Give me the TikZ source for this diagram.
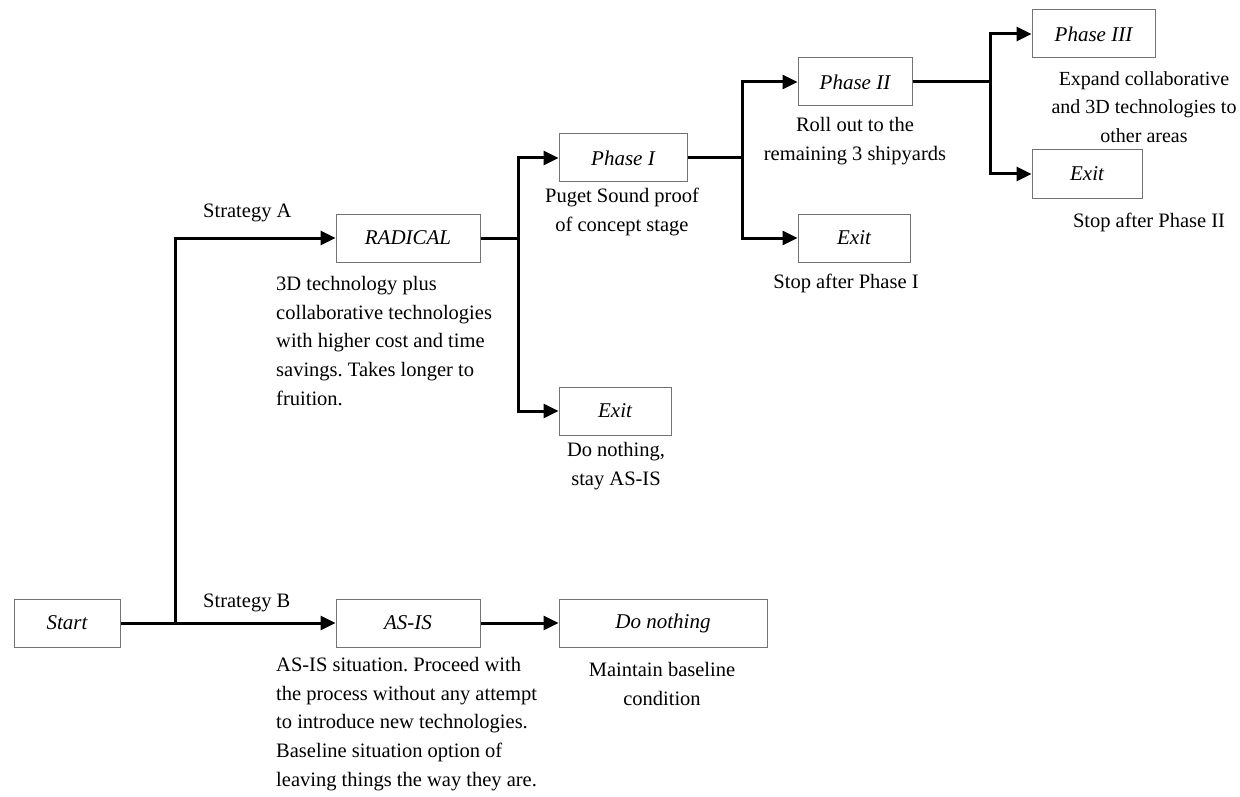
\documentclass[tikz,border=0pt]{standalone}
\usepackage{fontspec}
\setmainfont{Liberation Serif}
\usetikzlibrary{arrows.meta}
\begin{document}
\frenchspacing
\begin{tikzpicture}[x=1pt,y=-1pt,
  box/.style={draw=black!55, line width=1pt, inner sep=0pt, minimum height=48pt,
    font=\fontsize{21}{25}\selectfont\itshape},
  conn/.style={line width=3pt},
  arr/.style={conn, -{Triangle[length=15pt,width=14pt]}},
  desc/.style={inner sep=0pt, font=\fontsize{20.5}{28.7}\selectfont, align=center},
  descl/.style={inner sep=0pt, font=\fontsize{20.5}{28.7}\selectfont, align=left, anchor=west}]
\useasboundingbox (0,0) rectangle (1240,797);
% boxes
\node[box, minimum width=106pt] (start) at (67,623) {Start};
\node[box, minimum width=144pt] (asis) at (408,623) {AS-IS};
\node[box, minimum width=208pt] (donothing) at (663,623) {Do nothing};
\node[box, minimum width=144pt] (radical) at (408,238) {RADICAL};
\node[box, minimum width=128pt] (p1) at (623,158) {Phase I};
\node[box, minimum width=112pt] (exit1) at (615,411) {Exit};
\node[box, minimum width=114pt] (p2) at (855,82) {Phase II};
\node[box, minimum width=112pt] (exit2) at (854,238) {Exit};
\node[box, minimum width=123pt] (p3) at (1093.5,34) {Phase III};
\node[box, minimum width=110pt] (exit3) at (1087,174) {Exit};
% junctions
\coordinate (j1) at (175,623);
\coordinate (j2) at (518,238);
\coordinate (j3) at (742,158);
\coordinate (j4) at (990,82);
% connectors
\draw[conn] (start.east) -- (j1);
\draw[arr] (j1) -- (asis.west);
\draw[arr] (j1) |- (radical.west);
\draw[arr] (asis.east) -- (donothing.west);
\draw[conn] (radical.east) -- (j2);
\draw[arr] (j2) |- (p1.west);
\draw[arr] (j2) |- (exit1.west);
\draw[conn] (p1.east) -- (j3);
\draw[arr] (j3) |- (p2.west);
\draw[arr] (j3) |- (exit2.west);
\draw[conn] (p2.east) -- (j4);
\draw[arr] (j4) |- (p3.west);
\draw[arr] (j4) |- (exit3.west);
% labels
\node[descl] (lsa) at (203,213) {Strategy A};
\node[descl] (lsb) at (203,603) {Strategy B};
\node[descl, anchor=north west] (dradical) at (276,276) {3D technology plus\\collaborative technologies\\with higher cost and time\\savings. Takes longer to\\fruition.};
\node[descl, anchor=north west] (dasis) at (276,657) {AS-IS situation. Proceed with\\the process without any attempt\\to introduce new technologies.\\Baseline situation option of\\leaving things the way they are.};
\node[desc] (ddon) at (662,684) {Maintain baseline\\condition};
\node[desc] (dp1) at (622,212) {Puget Sound proof\\of concept stage};
\node[desc] (dexit1) at (616,466) {Do nothing,\\stay AS-IS};
\node[desc] (dexit2) at (846,283) {Stop after Phase I};
\node[desc] (dp2) at (855,141) {Roll out to the\\remaining 3 shipyards};
\node[desc, font=\fontsize{20}{28.7}\selectfont] (dp3) at (1144,107) {Expand collaborative\\and 3D technologies to\\other areas};
\node[desc] (dexit3) at (1149,222) {Stop after Phase II};
\end{tikzpicture}
\end{document}
